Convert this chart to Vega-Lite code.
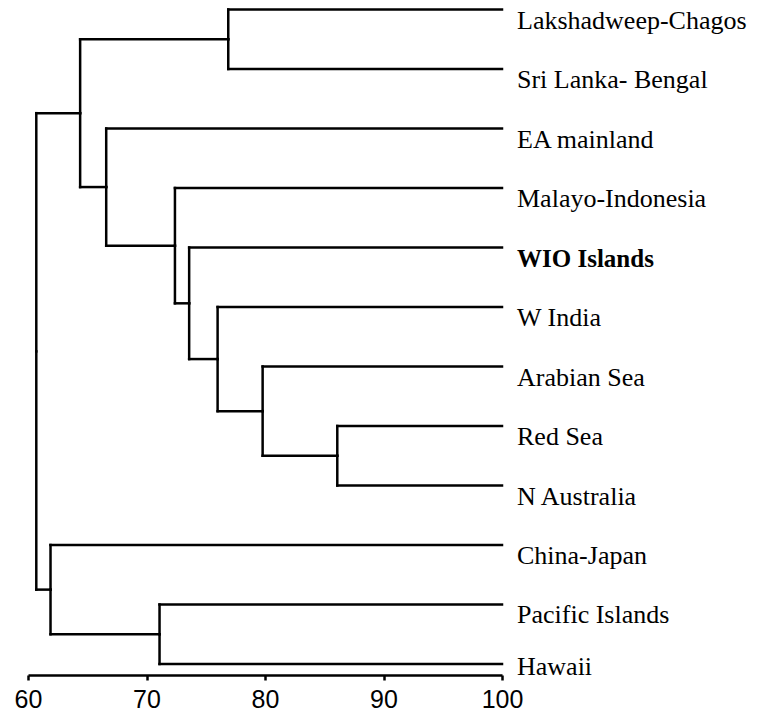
{
  "$schema": "https://vega.github.io/schema/vega-lite/v6.json",
  "width": 474,
  "height": 675,
  "autosize": {"type": "none"},
  "padding": {"left": 28, "top": 0, "right": 263, "bottom": 37},
  "background": "white",
  "config": {"view": {"stroke": null}},
  "datasets": {
    "edges": [
      {"child": "Lakshadweep-Chagos", "cx": 100, "cy": 0, "px": 76.9, "py": 0.5},
      {"child": "Sri Lanka- Bengal", "cx": 100, "cy": 1, "px": 76.9, "py": 0.5},
      {"child": "EA mainland", "cx": 100, "cy": 2, "px": 66.6, "py": 2.984},
      {"child": "Malayo-Indonesia", "cx": 100, "cy": 3, "px": 72.4, "py": 3.969},
      {"child": "WIO Islands", "cx": 100, "cy": 4, "px": 73.6, "py": 4.938},
      {"child": "W India", "cx": 100, "cy": 5, "px": 76.0, "py": 5.875},
      {"child": "Arabian Sea", "cx": 100, "cy": 6, "px": 79.8, "py": 6.75},
      {"child": "Red Sea", "cx": 100, "cy": 7, "px": 86.1, "py": 7.5},
      {"child": "N Australia", "cx": 100, "cy": 8, "px": 86.1, "py": 7.5},
      {"child": "China-Japan", "cx": 100, "cy": 9, "px": 61.9, "py": 9.75},
      {"child": "Pacific Islands", "cx": 100, "cy": 10, "px": 71.1, "py": 10.5},
      {"child": "Hawaii", "cx": 100, "cy": 11, "px": 71.1, "py": 10.5},
      {"child": "N1", "cx": 76.9, "cy": 0.5, "px": 64.4, "py": 1.742},
      {"child": "N2", "cx": 86.1, "cy": 7.5, "px": 79.8, "py": 6.75},
      {"child": "N3", "cx": 79.8, "cy": 6.75, "px": 76.0, "py": 5.875},
      {"child": "N4", "cx": 76.0, "cy": 5.875, "px": 73.6, "py": 4.938},
      {"child": "N5", "cx": 73.6, "cy": 4.938, "px": 72.4, "py": 3.969},
      {"child": "N6", "cx": 72.4, "cy": 3.969, "px": 66.6, "py": 2.984},
      {"child": "N7", "cx": 66.6, "cy": 2.984, "px": 64.4, "py": 1.742},
      {"child": "N8", "cx": 64.4, "cy": 1.742, "px": 60.7, "py": 5.746},
      {"child": "N9", "cx": 71.1, "cy": 10.5, "px": 61.9, "py": 9.75},
      {"child": "N10", "cx": 61.9, "cy": 9.75, "px": 60.7, "py": 5.746}
    ],
    "leaves": [
      {"name": "Lakshadweep-Chagos", "idx": 0, "group": "normal"},
      {"name": "Sri Lanka- Bengal", "idx": 1, "group": "normal"},
      {"name": "EA mainland", "idx": 2, "group": "normal"},
      {"name": "Malayo-Indonesia", "idx": 3, "group": "normal"},
      {"name": "WIO Islands", "idx": 4, "group": "highlight"},
      {"name": "W India", "idx": 5, "group": "normal"},
      {"name": "Arabian Sea", "idx": 6, "group": "normal"},
      {"name": "Red Sea", "idx": 7, "group": "normal"},
      {"name": "N Australia", "idx": 8, "group": "normal"},
      {"name": "China-Japan", "idx": 9, "group": "normal"},
      {"name": "Pacific Islands", "idx": 10, "group": "normal"},
      {"name": "Hawaii", "idx": 11, "group": "last"}
    ]
  },
  "layer": [
    {
      "data": {"name": "edges"},
      "mark": {"type": "rule", "strokeWidth": 2.5, "color": "black", "strokeCap": "square"},
      "encoding": {
        "x": {
          "field": "px", "type": "quantitative",
          "scale": {"domain": [60, 100], "nice": false, "zero": false},
          "axis": {
            "values": [60, 70, 80, 90, 100],
            "grid": false,
            "title": null,
            "domainColor": "black",
            "domainWidth": 2.5,
            "tickColor": "black",
            "tickWidth": 2.5,
            "tickSize": 5,
            "labelFont": "Liberation Sans",
            "labelFontSize": 25,
            "labelColor": "black",
            "labelPadding": 7,
            "labelFlush": false,
            "labelOverlap": false,
            "labelDx": -4
          }
        },
        "x2": {"field": "cx"},
        "y": {
          "field": "cy", "type": "quantitative",
          "scale": {"domain": [-0.16, 11.185], "reverse": true, "nice": false, "zero": false},
          "axis": null
        }
      }
    },
    {
      "data": {"name": "edges"},
      "mark": {"type": "rule", "strokeWidth": 2.5, "color": "black", "strokeCap": "square"},
      "encoding": {
        "x": {"field": "px", "type": "quantitative"},
        "y": {"field": "cy", "type": "quantitative"},
        "y2": {"field": "py"}
      }
    },
    {
      "data": {"name": "leaves"},
      "transform": [{"filter": "datum.group === 'normal'"}],
      "mark": {"type": "text", "align": "left", "baseline": "alphabetic", "dx": 15, "dy": 19, "font": "Liberation Serif", "fontSize": 26, "color": "black"},
      "encoding": {
        "x": {"datum": 100, "type": "quantitative"},
        "y": {"field": "idx", "type": "quantitative"},
        "text": {"field": "name"}
      }
    },
    {
      "data": {"name": "leaves"},
      "transform": [{"filter": "datum.group === 'highlight'"}],
      "mark": {"type": "text", "align": "left", "baseline": "alphabetic", "dx": 15, "dy": 19, "font": "Liberation Serif", "fontSize": 25, "fontWeight": "bold", "color": "black"},
      "encoding": {
        "x": {"datum": 100, "type": "quantitative"},
        "y": {"field": "idx", "type": "quantitative"},
        "text": {"field": "name"}
      }
    },
    {
      "data": {"name": "leaves"},
      "transform": [{"filter": "datum.group === 'last'"}],
      "mark": {"type": "text", "align": "left", "baseline": "alphabetic", "dx": 15, "dy": 11, "font": "Liberation Serif", "fontSize": 26, "color": "black"},
      "encoding": {
        "x": {"datum": 100, "type": "quantitative"},
        "y": {"field": "idx", "type": "quantitative"},
        "text": {"field": "name"}
      }
    }
  ]
}
